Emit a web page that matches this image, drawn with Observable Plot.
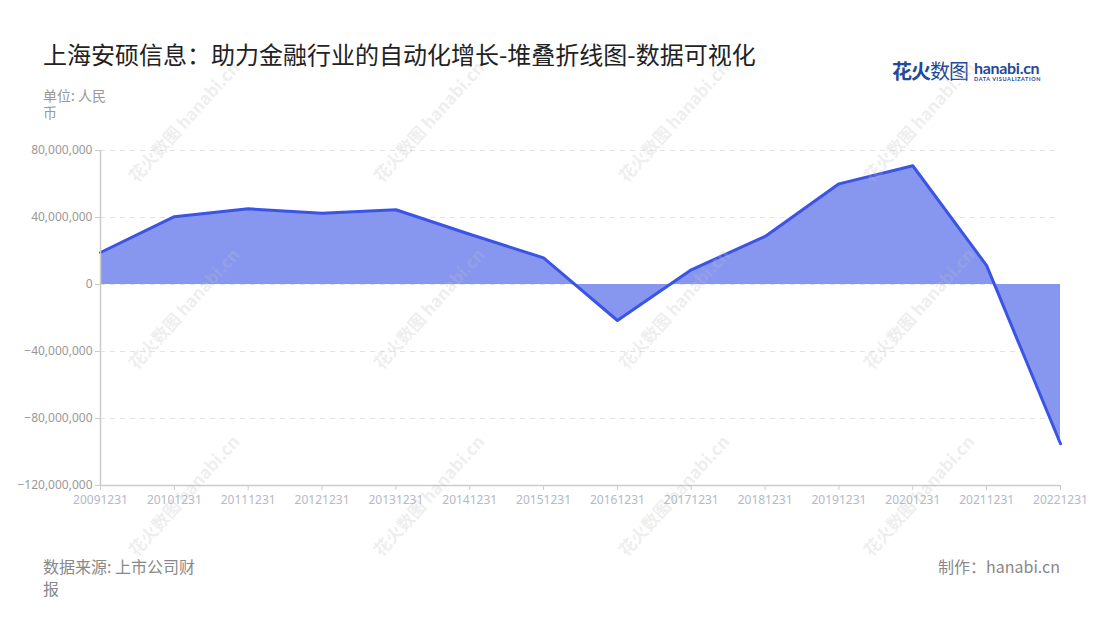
<!DOCTYPE html>
<html>
<head>
<meta charset="utf-8">
<script src="https://cdn.jsdelivr.net/npm/d3@7"></script>
<script src="https://cdn.jsdelivr.net/npm/@observablehq/plot@0.6"></script>
<style>
  html, body { margin: 0; padding: 0; background: #fff; }
  body { width: 1100px; height: 620px; position: relative; overflow: hidden;
         font-family: "Noto Sans CJK SC", "Noto Sans", sans-serif; }
  .title { position: absolute; left: 43px; top: 38px; font-size: 24px; line-height: 32px; color: #222; white-space: nowrap; }
  .unit { position: absolute; left: 43px; top: 87px; width: 72px; font-size: 14px; line-height: 17px; color: #999; }
  .source { position: absolute; left: 43px; top: 555px; width: 160px; font-size: 16px; line-height: 22px; color: #888; }
  .credit { position: absolute; right: 40px; top: 555px; font-size: 16px; line-height: 22px; color: #888; white-space: nowrap; }
  .logo { position: absolute; left: 892px; top: 58px; white-space: nowrap; color: #24489a; }
  .logo .cn { font-size: 20px; font-weight: 700; letter-spacing: -1px; vertical-align: top; line-height: 26px; }
  .logo .cn2 { font-weight: 400; }
  .logo .en { display: inline-block; margin-left: 6px; vertical-align: top; line-height: 14px; padding-top: 1px; }
  .logo .en b { display: block; font-family: "Lato", sans-serif; font-size: 16px; font-weight: 700; line-height: 17px; letter-spacing: -0.3px; }
  .logo .en i { display: block; font-style: normal; font-size: 5.5px; line-height: 7px; letter-spacing: 0.6px; font-family: "Lato", sans-serif; font-weight: 700; }
  #chart { position: absolute; left: 0; top: 130px; }
  .wm { position: absolute; font-size: 17px; font-weight: 700; color: rgba(190,190,190,0.25); white-space: nowrap;
        transform: translate(-50%, -50%) rotate(-48deg); pointer-events: none; }
</style>
</head>
<body>
<div class="title">上海安硕信息：助力金融行业的自动化增长-堆叠折线图-数据可视化</div>
<div class="unit">单位: 人民币</div>
<div class="logo"><span class="cn">花火<span class="cn2">数图</span></span><span class="en"><b>hanabi.cn</b><i>DATA VISUALIZATION</i></span></div>
<div id="chart"></div>
<div class="source">数据来源: 上市公司财报</div>
<div class="credit">制作：hanabi.cn</div>
<script>
const dates = ["20091231","20101231","20111231","20121231","20131231","20141231","20151231",
               "20161231","20171231","20181231","20191231","20201231","20211231","20221231"];
const values = [19100000, 40500000, 45200000, 42600000, 44600000, 30000000, 15900000,
                -21500000, 8800000, 28700000, 60100000, 70900000, 11300000, -95100000];
const yTicks = [-120000000, -80000000, -40000000, 0, 40000000, 80000000];

const data = dates.map((d, i) => ({date: d, value: values[i]}));

const fmt = d3.format(",");
const axisColor = "#cccccc";

const chart = Plot.plot({
  width: 1100,
  height: 400,
  marginTop: 20,
  marginBottom: 45,
  marginLeft: 100,
  marginRight: 40,
  style: {fontFamily: "'Noto Sans', 'Noto Sans CJK SC', sans-serif", fontSize: "12px", background: "transparent"},
  x: {type: "point", domain: dates, padding: 0, round: false},
  y: {domain: [-120000000, 80000000]},
  marks: [
    Plot.ruleY(yTicks.filter(t => t !== -120000000), {stroke: "#e3e3e3", strokeWidth: 1, strokeDasharray: "5,5"}),
    Plot.area(data, {x1: "date", y1: () => 0, y2: "value", fill: "#8797f0", fillOpacity: 1}),
    Plot.line(data, {x: "date", y: "value", stroke: "#3b54e6", strokeWidth: 3, strokeLinejoin: "round"}),
    Plot.ruleX([dates[0]], {y1: -120000000, y2: 80000000, stroke: axisColor, strokeWidth: 1.5}),
    Plot.ruleY([-120000000], {stroke: axisColor, strokeWidth: 1.5}),
    Plot.axisY({ticks: yTicks, tickFormat: fmt, tickSize: 5, tickPadding: 3, stroke: axisColor, fill: "#999", fontSize: 12, label: null}),
    Plot.axisX({tickSize: 5, tickPadding: 5, stroke: axisColor, fill: "#b4b8c8", fontSize: 12, label: null})
  ]
});
document.getElementById("chart").appendChild(chart);

// faint watermarks
const wmX = [183, 428, 673, 918];
const wmY = [121, 308, 495];
for (const y of wmY) for (const x of wmX) {
  const el = document.createElement("div");
  el.className = "wm";
  el.textContent = "花火数图 hanabi.cn";
  el.style.left = x + "px";
  el.style.top = y + "px";
  document.body.appendChild(el);
}
</script>
</body>
</html>
